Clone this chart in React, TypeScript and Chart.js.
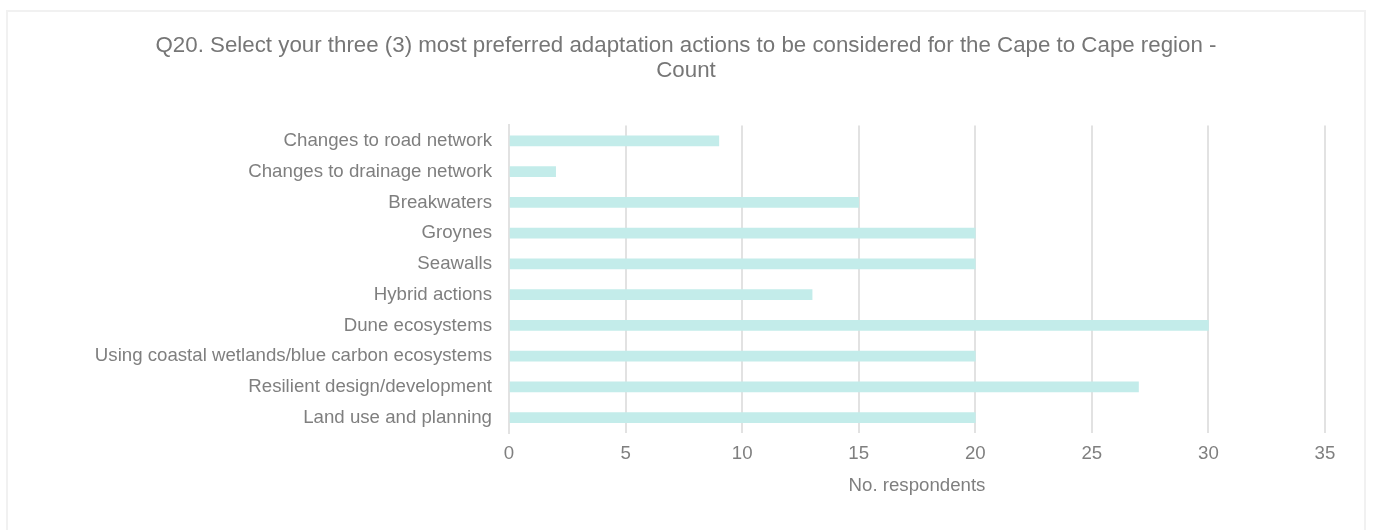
import React, { useEffect, useRef } from "react";
import { Chart, registerables } from "chart.js";

Chart.register(...registerables);

const titleLines = [
  "Q20. Select your three (3) most preferred adaptation actions to be considered for the Cape to Cape region -",
  "Count",
];
const categories = [
  "Changes to road network",
  "Changes to drainage network",
  "Breakwaters",
  "Groynes",
  "Seawalls",
  "Hybrid actions",
  "Dune ecosystems",
  "Using coastal wetlands/blue carbon ecosystems",
  "Resilient design/development",
  "Land use and planning",
];
const counts = [9, 2, 15, 20, 20, 13, 30, 20, 27, 20];
const xAxisTitle = "No. respondents";
const xMin = 0;
const xMax = 35;
const xStep = 5;

const FONT = "'Liberation Sans', Arial, sans-serif";
const LABEL_SIZE = 18.67;

export default function App() {
  const ref = useRef<HTMLCanvasElement | null>(null);

  useEffect(() => {
    if (!ref.current) return;
    const chart = new Chart(ref.current, {
      type: "bar",
      data: {
        labels: categories,
        datasets: [
          {
            label: "Count",
            data: counts,
            backgroundColor: "#c3ecea",
            borderWidth: 0,
            barThickness: 10,
          },
        ],
      },
      options: {
        indexAxis: "y",
        animation: false,
        responsive: false,
        maintainAspectRatio: false,
        layout: { padding: { left: 39, right: 39, top: 0, bottom: 34 } },
        plugins: {
          legend: { display: false },
          tooltip: { enabled: false },
          title: {
            display: true,
            text: titleLines,
            color: "#767676",
            font: { family: FONT, size: 22.3, weight: "normal", lineHeight: 1.12 },
            padding: { top: 21, bottom: 42.5 },
          },
        },
        scales: {
          x: {
            min: xMin,
            max: xMax,
            ticks: {
              stepSize: xStep,
              color: "#7f7f7f",
              font: { family: FONT, size: LABEL_SIZE },
              padding: 10,
            },
            grid: { color: "#e2e2e2", lineWidth: 2, drawTicks: false },
            border: { display: false },
            title: {
              display: true,
              text: xAxisTitle,
              color: "#7f7f7f",
              font: { family: FONT, size: LABEL_SIZE, lineHeight: 1.1 },
              padding: { top: 0, bottom: 0 },
            },
          },
          y: {
            ticks: {
              color: "#7f7f7f",
              font: { family: FONT, size: LABEL_SIZE },
              padding: 17,
            },
            grid: { display: false, drawTicks: false },
            border: { display: true, color: "#e2e2e2", width: 2 },
            afterFit: (scale: any) => {
              scale.width = 462;
            },
          },
        },
      },
    });
    return () => chart.destroy();
  }, []);

  return (
    <div
      style={{
        position: "absolute",
        left: 6,
        top: 10,
        width: 1360,
        height: 540,
        border: "2px solid #f1f1f1",
        boxSizing: "border-box",
        background: "#fff",
      }}
    >
      <canvas ref={ref} width={1356} height={518} style={{ display: "block" }} />
    </div>
  );
}
